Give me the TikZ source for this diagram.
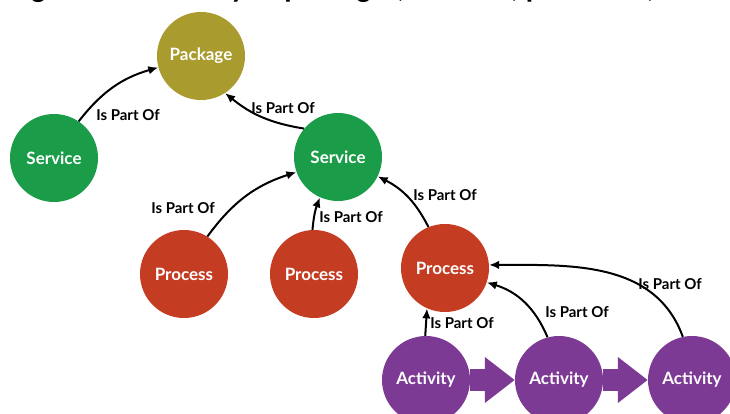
\documentclass[tikz,border=0pt]{standalone}
\usepackage{fontspec}
\setmainfont{Lato}
\newfontfamily\capfont{Carlito}
\usetikzlibrary{arrows.meta,backgrounds}

\definecolor{pkgcol}{RGB}{170,155,46}
\definecolor{srvcol}{RGB}{26,156,72}
\definecolor{prccol}{RGB}{196,60,34}
\definecolor{actcol}{RGB}{124,58,148}

\begin{document}
\begin{tikzpicture}[x=1pt,y=1pt,>={Latex[length=10pt,width=8.5pt]},
  blob/.style={circle,minimum size=88pt,inner sep=0pt,text=white,
    font=\bfseries\fontsize{17}{17}\selectfont},
  pkg/.style={blob,fill=pkgcol},
  srv/.style={blob,fill=srvcol},
  prc/.style={blob,fill=prccol},
  act/.style={blob,fill=actcol},
  lbl/.style={inner sep=0pt,font=\bfseries\fontsize{15}{15}\selectfont},
  link/.style={->,line width=2pt},
  flow/.style={actcol,line width=22pt,-{Triangle[length=30pt,width=44pt]}}]

\useasboundingbox (0,0) rectangle (730,-414);
\clip (0,0) rectangle (730,-414);

% caption line, mostly above the frame
\node[anchor=base west,inner sep=0pt,font=\capfont\bfseries\fontsize{30}{30}\selectfont]
  (caption) at (10,2) {Figure 1: Hierarchy of packages, services, processes, and activities};

% the hierarchy
\node[pkg] (package) at (201,-56) {Package};
\node[srv] (service1) at (54,-158) {Service};
\node[srv] (service2) at (338,-157) {Service};
\node[prc] (process1) at (184,-274) {Process};
\node[prc] (process2) at (314,-274) {Process};
\node[prc] (process3) at (445,-268) {Process};
\node[act] (activity1) at (426,-380) {Activity};
\node[act] (activity2) at (559,-380) {Activity};
\node[act] (activity3) at (692,-380) {Activity};

% sequence between activities
\begin{scope}[on background layer]
\draw[flow] (activity1.east) -- (activity2.west);
\draw[flow] (activity2.east) -- (activity3.west);
\end{scope}

% part-of links
\draw[link] (service1.56) to[bend left=18] (package.195);
\draw[link] (service2.140) to[bend left=15] (package.303);
\draw[link] (process1.58) to[bend left=18] (service2.200);
\draw[link] (process2.92) to[bend left=8] (service2.246);
\draw[link] (process3.112) to[bend right=18] (service2.334);
\draw[link] (activity1.91) -- (process3.246);
\draw[link] (activity2.105) to[bend right=25] (process3.341);
\draw[link] (activity3.102) to[out=110,in=0] (process3.4);

\node[lbl] (lab1) at (128,-115) {Is Part Of};
\node[lbl] (lab2) at (283,-108) {Is Part Of};
\node[lbl] (lab3) at (183,-208) {Is Part Of};
\node[lbl] (lab4) at (351,-217) {Is Part Of};
\node[lbl] (lab5) at (445,-195) {Is Part Of};
\node[lbl] (lab6) at (462,-323) {Is Part Of};
\node[lbl] (lab7) at (577,-312) {Is Part Of};
\node[lbl] (lab8) at (670,-284) {Is Part Of};

\end{tikzpicture}
\end{document}
